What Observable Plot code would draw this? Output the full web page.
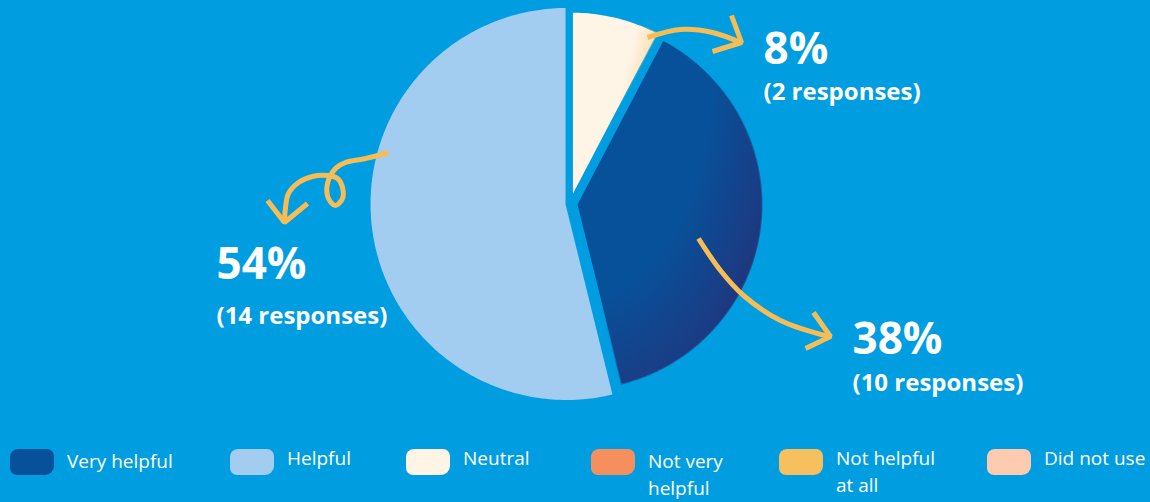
<!DOCTYPE html>
<html>
<head>
<meta charset="utf-8">
<script src="https://cdn.jsdelivr.net/npm/d3@7"></script>
<script src="https://cdn.jsdelivr.net/npm/@observablehq/plot@0.6"></script>
<style>
  html, body { margin: 0; padding: 0; background: #009ee0; }
  #wrap { width: 1150px; height: 502px; position: relative; overflow: hidden; background: #009ee0; }
  #legend { position: relative; width: 1150px; height: 72px; font-family: "Open Sans", sans-serif; color: #fff; }
  .item { position: absolute; top: 0; }
  .sw { position: absolute; top: 19px; width: 44px; height: 26px; border-radius: 8px 7px 9px 7px; }
  .lab { position: absolute; font-size: 19px; line-height: 27px; white-space: nowrap; }
</style>
</head>
<body>
<div id="wrap"><div id="chart"></div><div id="legend"></div></div>
<script>
// ---------------- data ----------------
const categories = ["Very helpful", "Helpful", "Neutral", "Not very helpful", "Not helpful at all", "Did not use"];
const responses  = [10, 14, 2, 0, 0, 0];
const colors     = ["#07519a", "#a3cdf0", "#fff5e6", "#f58f5e", "#f6c05f", "#fecbb0"];
const legendLines = [["Very helpful"], ["Helpful"], ["Neutral"], ["Not very", "helpful"], ["Not helpful", "at all"], ["Did not use"]];

// ---------------- layout ----------------
const W = 1150, H = 430;
const bg = "#009ee0", arrowColor = "#f6bd57";
const center = [570, 203];
const sliceLayout = {            // radius and explode offset per slice
  "Neutral":      {r: 186, off: 6},
  "Very helpful": {r: 186, off: 6},
  "Helpful":      {r: 197, off: 4}
};
const labelLayout = {            // label anchor (baseline of % text) per slice
  "Helpful":      {x: 216, y: 278, y2: 323},
  "Neutral":      {x: 763, y: 63,  y2: 99},
  "Very helpful": {x: 852, y: 353, y2: 390}
};
const arrowPaths = [
  {id: "a1", pts: [[647,37],[680,29],[712,32],[740,42]]},
  {id: "a2", pts: [[388,152],[365,158],[345,162],[335,168],[327,183],[328,198],[335,205],[342,198],[342,187],[337,178],[327,175],[312,176],[298,182],[288,193],[285,207],[284,222]]},
  {id: "a3", pts: [[698,238],[720,270],[743,295],[780,320],[828,336]]}
];
const arrowHeads = [
  {id: "h1", pts: [[731,15],[741,42],[712,51]]},
  {id: "h2", pts: [[267,200],[284,222],[307,203]]},
  {id: "h3", pts: [[813,312],[830,336],[805,348]]}
];

// ---------------- build pie geometry from data ----------------
const total = d3.sum(responses);
const rows = categories.map((c, i) => ({category: c, value: responses[i], color: colors[i]}));
const arcs = d3.pie().value(d => d.value).sortValues((a, b) => a - b)(rows.filter(d => d.value > 0));
const slicePts = [];
for (const a of arcs) {
  const key = a.data.category;
  const L = sliceLayout[key];
  const mid = (a.startAngle + a.endAngle) / 2;
  const ox = center[0] + L.off * Math.sin(mid);
  const oy = center[1] - L.off * Math.cos(mid);
  slicePts.push({category: key, x: ox, y: oy});
  const n = Math.max(8, Math.ceil((a.endAngle - a.startAngle) / (Math.PI / 180)));
  for (let k = 0; k <= n; k++) {
    const t = a.startAngle + (a.endAngle - a.startAngle) * k / n;
    slicePts.push({category: key, x: ox + L.r * Math.sin(t), y: oy - L.r * Math.cos(t)});
  }
}
const labels = [];
for (const a of arcs) {
  const key = a.data.category, L = labelLayout[key];
  labels.push({x: L.x, y: L.y, text: Math.round(a.data.value / total * 100) + "%", size: 44});
  labels.push({x: L.x, y: L.y2, text: "(" + a.data.value + " responses)", size: 24});
}
const arrowPts = arrowPaths.flatMap(p => p.pts.map(([x, y]) => ({id: p.id, x, y})));
const headPts = arrowHeads.flatMap(p => p.pts.map(([x, y]) => ({id: p.id, x, y})));

const chart = Plot.plot({
  width: W, height: H, margin: 0,
  style: {background: "transparent"},
  x: {domain: [0, W], range: [0, W], axis: null},
  y: {domain: [0, H], range: [0, H], axis: null},
  color: {domain: categories, range: colors},
  marks: [
    Plot.line(slicePts, {x: "x", y: "y", z: "category", fill: "category", stroke: bg, strokeWidth: 2, curve: "linear-closed"}),
    Plot.line(slicePts.filter(d => d.category === "Very helpful"), {x: "x", y: "y", fill: "url(#vhTex)", stroke: "none", curve: "linear-closed"}),
    Plot.line(slicePts.filter(d => d.category === "Neutral"), {x: "x", y: "y", fill: "url(#neTex)", stroke: "none", curve: "linear-closed"}),
    Plot.line(arrowPts, {x: "x", y: "y", z: "id", stroke: arrowColor, strokeWidth: 5, curve: "catmull-rom", strokeLinecap: "butt"}),
    Plot.line(headPts, {x: "x", y: "y", z: "id", stroke: arrowColor, strokeWidth: 5, curve: "linear", strokeLinejoin: "miter", strokeLinecap: "butt"}),
    Plot.text(labels, {x: "x", y: "y", text: "text", fontSize: d => d.size, fill: "white", fontWeight: "bold", textAnchor: "start", lineAnchor: "bottom", fontFamily: "'Open Sans', sans-serif"})
  ]
});
d3.select(chart).insert("defs", ":first-child").html(`
  <radialGradient id="vhTex" cx="0.05" cy="0.05" r="1.15">
    <stop offset="0.6" stop-color="#2a2b72" stop-opacity="0"/>
    <stop offset="0.88" stop-color="#2a2b72" stop-opacity="0.55"/>
    <stop offset="1" stop-color="#2a2b72" stop-opacity="0.85"/>
  </radialGradient>
  <linearGradient id="neTex" x1="0.35" y1="0.2" x2="1" y2="0.55">
    <stop offset="0.4" stop-color="#f7c47c" stop-opacity="0"/>
    <stop offset="1" stop-color="#f7c47c" stop-opacity="0.9"/>
  </linearGradient>`);
document.getElementById("chart").appendChild(chart);

// ---------------- legend ----------------
const legendX = [10, 230, 406, 591, 779, 987];
const legendTop = [18, 15, 15, 18, 15, 15];
const legend = d3.select("#legend");
categories.forEach((c, i) => {
  const it = legend.append("div").attr("class", "item").style("left", legendX[i] + "px");
  it.append("div").attr("class", "sw").style("background", colors[i]);
  it.append("div").attr("class", "lab").style("left", "57px").style("top", (legendTop[i]) + "px")
    .html(legendLines[i].join("<br>"));
});
</script>
</body>
</html>
